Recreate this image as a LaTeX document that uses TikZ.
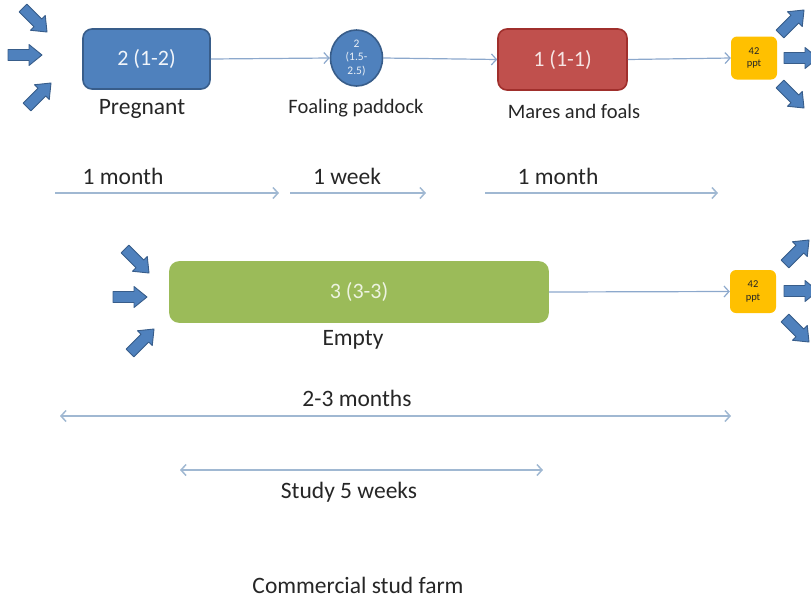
\documentclass[tikz,border=0pt]{standalone}
\usepackage{fontspec}
\setmainfont{Carlito}
\usetikzlibrary{arrows.meta,shapes.geometric}

\definecolor{boxblue}{HTML}{4F81BD}
\definecolor{boxblueedge}{HTML}{385D8A}
\definecolor{boxred}{HTML}{C0504D}
\definecolor{boxrededge}{HTML}{A02F2C}
\definecolor{boxgreen}{HTML}{9BBB59}
\definecolor{boxyellow}{HTML}{FFC000}
\definecolor{flowline}{HTML}{8CA8CC}
\definecolor{spanline}{HTML}{A0B8D2}
\definecolor{labeltext}{HTML}{262626}

\tikzset{
  stage/.style={rectangle, rounded corners=9pt, line width=1.6pt,
    inner sep=0pt, font=\fontsize{22}{26}\selectfont},
  pptbox/.style={rectangle, rounded corners=6pt, fill=boxyellow, draw=none,
    minimum width=46pt, minimum height=43pt, inner sep=0pt, align=center,
    text=labeltext, font=\fontsize{10.5}{12.5}\selectfont},
  caption/.style={text=labeltext, inner sep=0pt, font=\fontsize{23.5}{28}\selectfont},
  smallcaption/.style={text=labeltext, inner sep=0pt, font=\fontsize{20.5}{24}\selectfont},
  flow/.style={draw=flowline, line width=1.2pt, -{Straight Barb[length=5pt,width=11pt]}},
  span/.style={draw=spanline, line width=1.5pt, -{Straight Barb[length=5pt,width=11pt]}},
  twospan/.style={draw=spanline, line width=1.5pt,
    {Straight Barb[length=5pt,width=11pt]}-{Straight Barb[length=5pt,width=11pt]}},
  blockarrow/.pic={
    \filldraw[fill=boxblue, draw=boxblueedge, line width=0.9pt, line join=round]
      (-17,-5.5) -- (4,-5.5) -- (4,-10.5) -- (17,0) -- (4,10.5) -- (4,5.5)
      -- (-17,5.5) -- cycle;
  }
}

\begin{document}
\begin{tikzpicture}[x=1pt, y=-1pt]
\useasboundingbox (0,0) rectangle (811,598);

% ---- upper chain: pregnant -> foaling -> mares and foals -> 42 ppt
\node[stage, fill=boxblue, draw=boxblueedge, text=white!92!boxblue,
      minimum width=127pt, minimum height=60pt] (preg) at (146.5,59) {2 (1-2)};
\node[ellipse, fill=boxblue, draw=boxblueedge, line width=1.6pt,
      minimum width=52pt, minimum height=56pt, inner sep=0pt, align=center,
      text=white!88!boxblue, font=\fontsize{11.5}{13.5}\selectfont]
      (foal) at (356.5,58) {2\\(1.5-\\2.5)};
\node[stage, fill=boxred, draw=boxrededge, text=white!85!boxred,
      minimum width=129pt, minimum height=61pt] (mares) at (562.5,59.5) {1 (1-1)};
\node[pptbox] (pptA) at (754,58) {42\\ppt};

\draw[flow] (preg.east) -- (foal.west);
\draw[flow] (foal.east) -- (mares.west);
\draw[flow] (mares.east) -- (pptA.west);

\node[caption] (pregL) at (142,109) {Pregnant};
\node[smallcaption] (foalL) at (356,108) {Foaling paddock};
\node[smallcaption] (maresL) at (574,111) {Mares and foals};

% arrivals and departures of the upper chain
\path (35,20) pic[rotate=-45] {blockarrow};
\path (25,55) pic {blockarrow};
\path (39,95) pic[rotate=45] {blockarrow};
\path (792,22) pic[rotate=45] {blockarrow};
\path (801,58) pic {blockarrow};
\path (792,96) pic[rotate=-45] {blockarrow};

% ---- durations of the upper chain
\coordinate (d1s) at (55,193);  \coordinate (d1e) at (279,193);
\coordinate (d2s) at (290,193); \coordinate (d2e) at (426,193);
\coordinate (d3s) at (485,193); \coordinate (d3e) at (718,193);
\draw[span] (d1s) -- (d1e);
\draw[span] (d2s) -- (d2e);
\draw[span] (d3s) -- (d3e);
\node[caption] (d1L) at (123,176) {1 month};
\node[caption] (d2L) at (347,176) {1 week};
\node[caption] (d3L) at (558,176) {1 month};

% ---- lower chain: empty mares -> 42 ppt
\node[stage, fill=boxgreen, draw=boxgreen, text=white!82!boxgreen,
      minimum width=378pt, minimum height=60pt] (empty) at (359,292) {3 (3-3)};
\node[pptbox] (pptB) at (753,291.5) {42\\ppt};
\draw[flow] (empty.east) -- (pptB.west);
\node[caption] (emptyL) at (353,340) {Empty};

\path (137,261) pic[rotate=-45] {blockarrow};
\path (130,297) pic {blockarrow};
\path (142,341) pic[rotate=45] {blockarrow};
\path (797,252) pic[rotate=45] {blockarrow};
\path (801,291) pic {blockarrow};
\path (797,330) pic[rotate=-45] {blockarrow};

% ---- overall spans
\coordinate (t1s) at (60,416);  \coordinate (t1e) at (731,416);
\draw[twospan] (t1s) -- (t1e);
\node[caption] (t1L) at (357,398) {2-3 months};

\coordinate (t2s) at (180,470); \coordinate (t2e) at (543,470);
\draw[twospan] (t2s) -- (t2e);
\node[caption] (t2L) at (349,492) {Study 5 weeks};

\node[caption] (farm) at (358,585) {Commercial stud farm};
\end{tikzpicture}
\end{document}
